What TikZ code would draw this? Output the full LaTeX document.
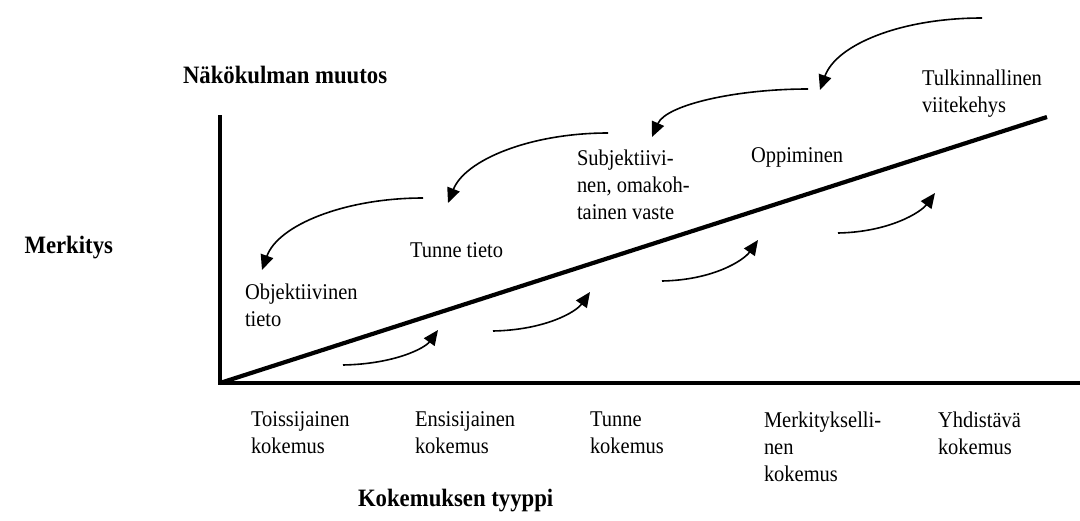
\documentclass[tikz,border=0pt]{standalone}
\usepackage{fontspec}
\setmainfont[FakeStretch=0.91]{Liberation Serif}
\usetikzlibrary{arrows.meta}
\begin{document}
\begin{tikzpicture}[x=1pt,y=-1pt,
  lbl/.style={inner sep=0pt,outer sep=0pt,align=left,font=\fontsize{22.5}{27}\selectfont},
  ttl/.style={inner sep=0pt,outer sep=0pt,font=\fontsize{25}{30}\selectfont\bfseries},
  axis/.style={line width=4.2pt,line cap=butt},
  flow/.style={line width=1.6pt,-{Triangle[length=15pt,width=13pt]}}]
\useasboundingbox (0,0) rectangle (1080,520);
% axes
\coordinate (o) at (220,383);
\coordinate (ytop) at (220,115);
\coordinate (xend) at (1080,383);
\coordinate (dend) at (1047,117);
\draw[axis] (ytop) -- (220,385);
\draw[axis,line width=4.6pt] (218,383) -- (xend);
\draw[axis] (o) -- (dend);
% titles
\node[ttl,anchor=base west] (nak) at (183,83) {Näkökulman muutos};
\node[ttl,anchor=base east] (mer) at (113,253) {Merkitys};
\node[ttl,anchor=base west] (kok) at (358,506) {Kokemuksen tyyppi};
% upper labels
\node[lbl,anchor=north west] (tul) at (922,70) {Tulkinnallinen\\viitekehys};
\node[lbl,anchor=north west] (opp) at (751,148) {Oppiminen};
\node[lbl,anchor=north west] (sub) at (577,150) {Subjektiivi-\\nen, omakoh-\\tainen vaste};
\node[lbl,anchor=north west] (tun) at (410,243) {Tunne tieto};
\node[lbl,anchor=north west] (obj) at (245,284) {Objektiivinen\\tieto};
% bottom labels
\node[lbl,anchor=north west] (k1) at (251,412) {Toissijainen\\kokemus};
\node[lbl,anchor=north west] (k2) at (415,412) {Ensisijainen\\kokemus};
\node[lbl,anchor=north west] (k3) at (590,412) {Tunne\\kokemus};
\node[lbl,anchor=north west] (k4) at (764,412) {Merkitykselli-\\nen\\kokemus};
\node[lbl,anchor=north west] (k5) at (938,412) {Yhdistävä\\kokemus};
% top arrows
\coordinate (a1s) at (982,18);  \coordinate (a1e) at (820,90);
\coordinate (a2s) at (808,89);  \coordinate (a2e) at (652,137);
\coordinate (a3s) at (608,133); \coordinate (a3e) at (448,203);
\coordinate (a4s) at (423,198); \coordinate (a4e) at (262,270);
\draw[flow] (a1s) .. controls (900,18) and (836,45) .. (a1e);
\draw[flow] (a2s) .. controls (735,89) and (666,105) .. (a2e);
\draw[flow] (a3s) .. controls (530,133) and (465,160) .. (a3e);
\draw[flow] (a4s) .. controls (345,198) and (278,225) .. (a4e);
% bottom arrows
\coordinate (b1s) at (343,365); \coordinate (b1e) at (438,330);
\coordinate (b2s) at (493,331); \coordinate (b2e) at (590,292);
\coordinate (b3s) at (662,281); \coordinate (b3e) at (758,240);
\coordinate (b4s) at (838,233); \coordinate (b4e) at (935,193);
\draw[flow] (b1s) .. controls (395,364) and (425,348) .. (b1e);
\draw[flow] (b2s) .. controls (545,330) and (576,312) .. (b2e);
\draw[flow] (b3s) .. controls (714,280) and (744,260) .. (b3e);
\draw[flow] (b4s) .. controls (890,232) and (921,212) .. (b4e);
\end{tikzpicture}
\end{document}
